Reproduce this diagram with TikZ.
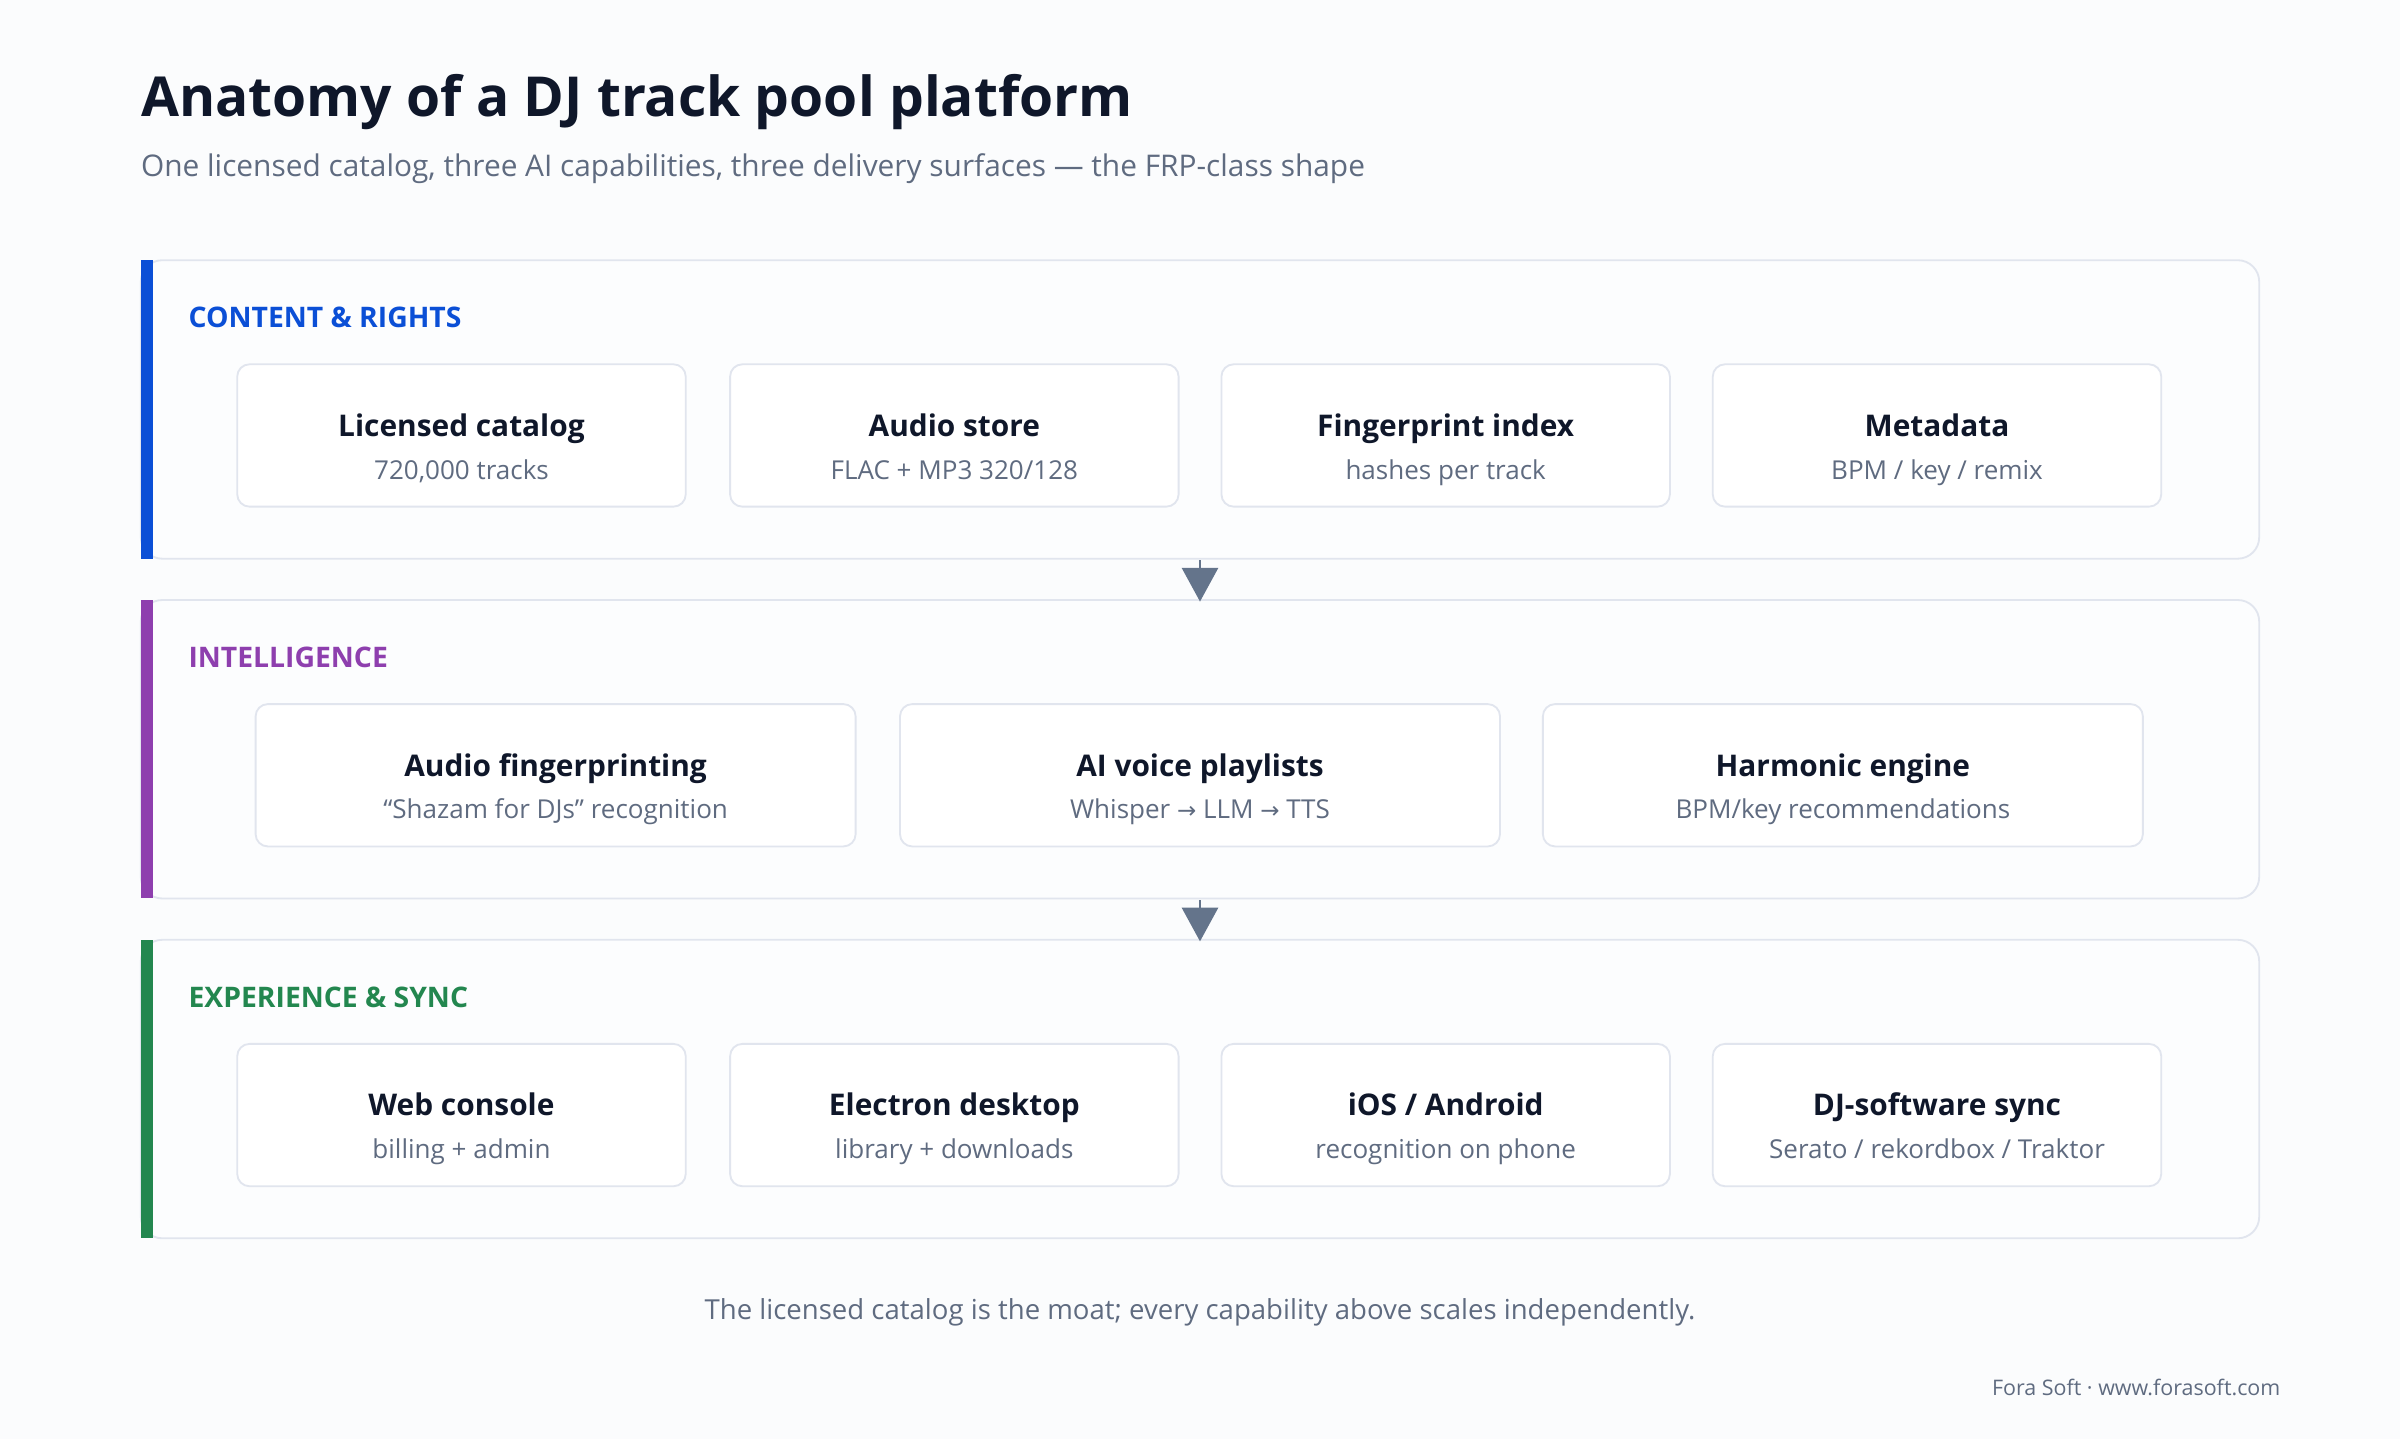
\documentclass[tikz,border=0pt]{standalone}
\usepackage{fontspec}
\setmainfont{Open Sans}
\newfontfamily\symf{DejaVu Sans}
\newcommand{\rarr}{{\symf\fontsize{15}{18}\selectfont →}}
\begin{document}
\begin{tikzpicture}[x=1pt,y=-1pt,
  panel/.style={draw=bordc,line width=1.2pt,fill=panelc,rounded corners=14pt},
  card/.style={draw=bordc,line width=1.2pt,fill=white,rounded corners=8pt},
  ctitle/.style={font=\fontsize{19.5}{23}\selectfont\bfseries,text=titc,anchor=base,inner sep=0},
  csub/.style={font=\fontsize{17}{21}\selectfont,text=grayc,anchor=base,inner sep=0},
  sec/.style={font=\fontsize{18.5}{22}\selectfont\bfseries,anchor=base west,inner sep=0},
  arr/.style={fill=arrc,draw=none}]
\definecolor{bgc}{HTML}{FBFCFD}
\definecolor{panelc}{HTML}{FCFDFE}
\definecolor{bordc}{HTML}{E1E5EE}
\definecolor{titc}{HTML}{0F172A}
\definecolor{grayc}{HTML}{5F6B80}
\definecolor{arrc}{HTML}{64748B}
\definecolor{bluec}{HTML}{0B4FD6}
\definecolor{purpc}{HTML}{8E3FAE}
\definecolor{greenc}{HTML}{23874F}
\fill[bgc] (0,0) rectangle (1568,940);
\useasboundingbox (0,0) rectangle (1568,940);
\node[anchor=base west,font=\fontsize{36}{40}\selectfont\bfseries,text=titc,inner sep=0] (title) at (92,76) {Anatomy of a DJ track pool platform};
\node[anchor=base west,font=\fontsize{19.5}{23}\selectfont,text=grayc,inner sep=0] (subtitle) at (92,115) {One licensed catalog, three AI capabilities, three delivery surfaces — the FRP-class shape};
\foreach \y/\c in {170/bluec,392/purpc,614/greenc}{
  \draw[panel] (92,\y) rectangle (1476,\y+195);
  \fill[\c] (92,\y) rectangle (100,\y+195);
}
\node[sec,text=bluec] (s1) at (123,214) {CONTENT \& RIGHTS};
\node[sec,text=purpc] (s2) at (123,436) {INTELLIGENCE};
\node[sec,text=greenc] (s3) at (123,658) {EXPERIENCE \& SYNC};
\foreach \x/\t/\s/\n in {155/{Licensed catalog}/{720,000 tracks}/a1,477/{Audio store}/{FLAC + MP3 320/128}/a2,798/{Fingerprint index}/{hashes per track}/a3,1119/{Metadata}/{BPM / key / remix}/a4}{
  \draw[card] (\x,238) rectangle (\x+293,331);
  \node[ctitle] (\n t) at (\x+146.5,285) {\t};
  \node[csub] (\n s) at (\x+146.5,313) {\s};
}
\foreach \x/\t/\s/\n in {167/{Audio fingerprinting}/{“Shazam for DJs” recognition}/b1,588/{AI voice playlists}/{Whisper \rarr{} LLM \rarr{} TTS}/b2,1008/{Harmonic engine}/{BPM/key recommendations}/b3}{
  \draw[card] (\x,460) rectangle (\x+392,553);
  \node[ctitle] (\n t) at (\x+196,507) {\t};
  \node[csub] (\n s) at (\x+196,535) {\s};
}
\foreach \x/\t/\s/\n in {155/{Web console}/{billing + admin}/c1,477/{Electron desktop}/{library + downloads}/c2,798/{iOS / Android}/{recognition on phone}/c3,1119/{DJ-software sync}/{Serato / rekordbox / Traktor}/c4}{
  \draw[card] (\x,682) rectangle (\x+293,775);
  \node[ctitle] (\n t) at (\x+146.5,729) {\t};
  \node[csub] (\n s) at (\x+146.5,757) {\s};
}
\foreach \y in {366,588}{
  \draw[arrc,line width=1.5pt] (784,\y) -- (784,\y+6);
  \fill[arr] (772,\y+5) -- (796,\y+5) -- (784,\y+27) -- cycle;
}
\node[anchor=base,inner sep=0,font=\fontsize{18}{22}\selectfont,text=grayc] (foot) at (784,862) {The licensed catalog is the moat; every capability above scales independently.};
\node[anchor=base east,inner sep=0,font=\fontsize{14}{17}\selectfont,text=grayc] (credit) at (1490,912) {Fora Soft · www.forasoft.com};
\end{tikzpicture}
\end{document}
